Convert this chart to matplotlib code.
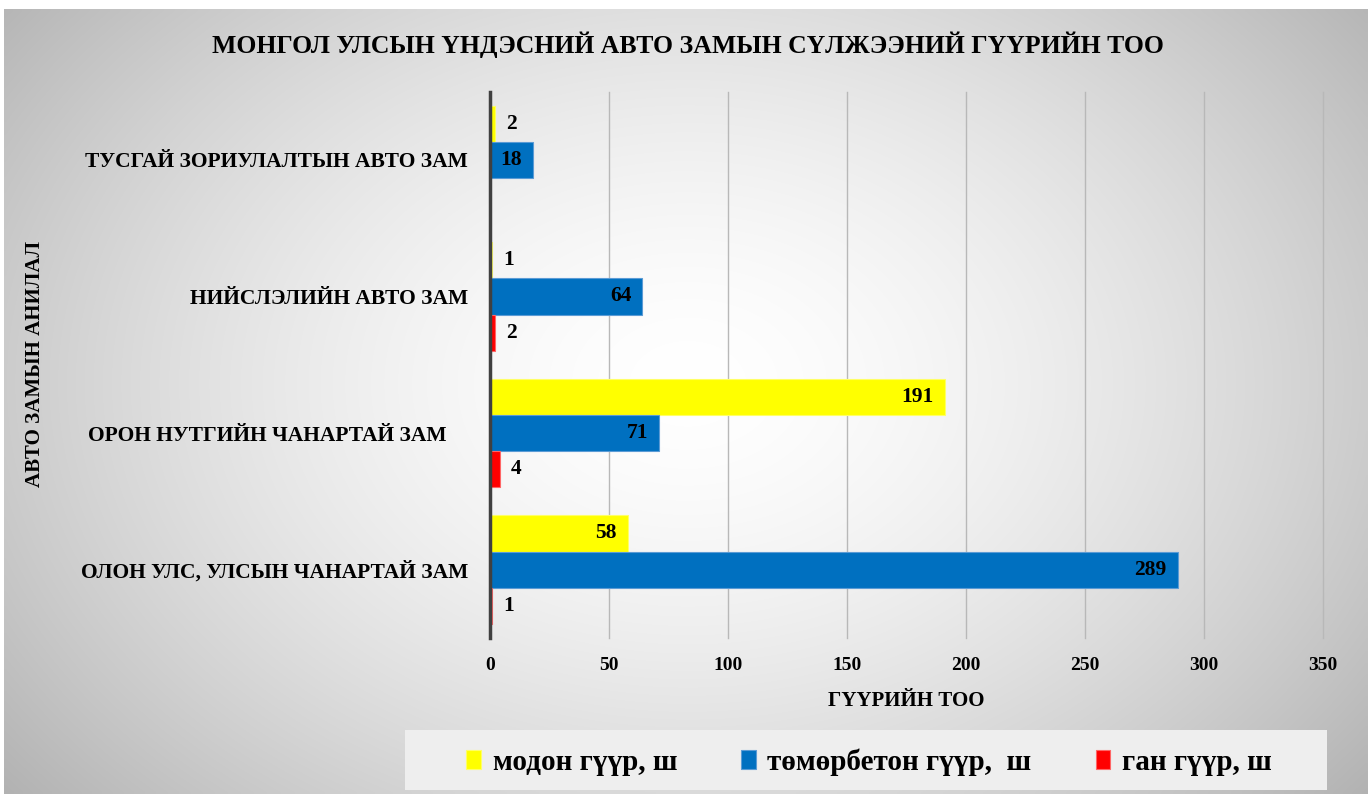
import numpy as np
import matplotlib
matplotlib.use("Agg")
import matplotlib.pyplot as plt
from matplotlib.patches import Rectangle, Patch

plt.rcParams['font.family'] = ['Liberation Serif', 'DejaVu Serif']
plt.rcParams['font.weight'] = 'bold'

categories = ["ОЛОН УЛС, УЛСЫН ЧАНАРТАЙ ЗАМ",
              "ОРОН НУТГИЙН ЧАНАРТАЙ ЗАМ    ",
              "НИЙСЛЭЛИЙН АВТО ЗАМ",
              "ТУСГАЙ ЗОРИУЛАЛТЫН АВТО ЗАМ"]
wood = [58, 191, 1, 2]
concrete = [289, 71, 64, 18]
steel = [1, 4, 2, None]
series_names = ["модон гүүр, ш", "төмөрбетон гүүр,  ш", "ган гүүр, ш"]
xticks = [0, 50, 100, 150, 200, 250, 300, 350]
title = "МОНГОЛ УЛСЫН ҮНДЭСНИЙ АВТО ЗАМЫН СҮЛЖЭЭНИЙ ГҮҮРИЙН ТОО"
xlabel = "ГҮҮРИЙН ТОО"
ylabel = "АВТО ЗАМЫН АНИЛАЛ"

colors = ["#FFFF00", "#0070C0", "#FF0000"]
edges = ["#FFFF66", "#5B9BD5", "#FF6666"]

W, H = 1372, 798
fig = plt.figure(figsize=(W / 100, H / 100), dpi=100)
fig.patch.set_facecolor("white")

# background gradient panel
bg = fig.add_axes([4 / W, 4 / H, 1 - 8 / W, 1 - 13 / H])
bg.set_axis_off()
yy, xx = np.mgrid[0:200, 0:340]
cx, cy = 170, 95
r = np.sqrt(((xx - cx) / 200.0) ** 2 + ((yy - cy) / 150.0) ** 2)
val = 1.0 - 0.26 * np.clip(r, 0, 1.3) ** 1.6
img = np.dstack([val, val, val])
bg.imshow(img, aspect='auto', extent=[0, 1, 0, 1], origin='upper', interpolation='bilinear')
bg.set_xlim(0, 1)
bg.set_ylim(0, 1)
bg.set_zorder(-10)

ax = fig.add_axes([490 / W, 1 - 638 / H, (1323 - 490) / W, (638 - 91.5) / H])
ax.patch.set_alpha(0)

h = 0.265
y = np.arange(len(categories))
offsets = [h, 0, -h]
all_series = [wood, concrete, steel]
for s, (vals, off) in enumerate(zip(all_series, offsets)):
    for i, v in enumerate(vals):
        if v is None:
            continue
        ax.barh(y[i] + off, v, height=h, color=colors[s], edgecolor=edges[s], linewidth=0.8, zorder=3)
        if v >= 15:
            ax.annotate(str(v), (v, y[i] + off), xytext=(-8, 0), textcoords='offset points',
                        ha='right', va='center', fontsize=15.5, fontweight='bold', zorder=4)
        else:
            ax.annotate(str(v), (v, y[i] + off), xytext=(8, 0), textcoords='offset points',
                        ha='left', va='center', fontsize=15.5, fontweight='bold', zorder=4)

ax.set_xlim(0, 350)
ax.set_ylim(-0.5, 3.5)
ax.set_xticks(xticks)
ax.set_xticklabels([str(t) for t in xticks], fontsize=14, fontweight='bold')
ax.set_yticks(y)
ax.set_yticklabels(categories, fontsize=15.5, fontweight='bold')
ax.tick_params(axis='both', length=0)
ax.tick_params(axis='y', pad=16)
ax.tick_params(axis='x', pad=14)
ax.grid(axis='x', color='#b8b8b8', linewidth=1, zorder=0)
for gl in ax.get_xgridlines():
    gl.set_clip_on(False)
for sp in ['top', 'right', 'bottom']:
    ax.spines[sp].set_visible(False)
ax.spines['left'].set_color('#404040')
ax.spines['left'].set_linewidth(2.5)
ax.spines['left'].set_zorder(5)

ax.set_xlabel(xlabel, fontsize=15, fontweight='bold', labelpad=12)
fig.text(35 / W, 1 - 364 / H, ylabel, rotation=90, ha='center', va='center', fontsize=15, fontweight='bold')
fig.text(688 / W, 1 - 45 / H, title, ha='center', va='center', fontsize=18.5, fontweight='bold')

# legend box
fig.patches.append(Rectangle((405 / W, 1 - 790 / H), (1327 - 405) / W, 60 / H,
                             transform=fig.transFigure, facecolor='#eeeeee', edgecolor='none', zorder=-5))
handles = [Patch(facecolor=colors[i], edgecolor=edges[i], linewidth=0.8) for i in range(3)]
leg = fig.legend(handles, series_names, loc='center', bbox_to_anchor=(869 / W, 1 - 762 / H),
                 ncol=3, frameon=False, prop={'family': 'Liberation Serif', 'weight': 'bold', 'size': 21},
                 handlelength=0.5, handleheight=0.6, handletextpad=0.4, columnspacing=2.2)

fig.savefig("out.png", dpi=100)
